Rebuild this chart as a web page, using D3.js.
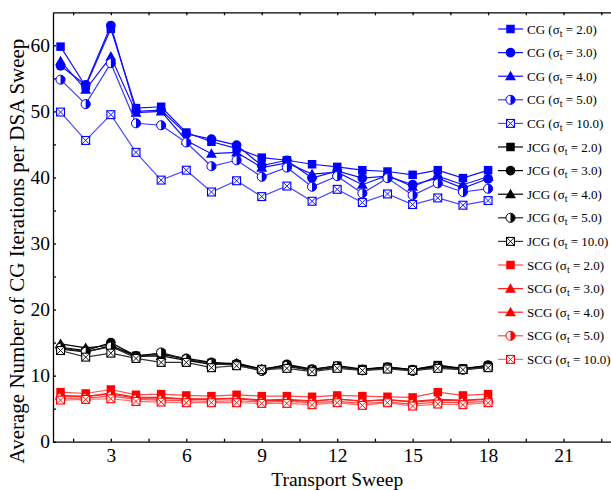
<!DOCTYPE html>
<html>
<head>
<meta charset="utf-8">
<script src="https://cdn.jsdelivr.net/npm/d3@7"></script>
<style>
  body { margin: 0; background: #fff; }
  svg text { font-family: "Liberation Serif", "DejaVu Serif", serif; }
</style>
</head>
<body>
<div id="graphic"></div>
<script>
// transport sweep index
const sweeps = d3.range(1, 19);
const sigmas = ["2.0", "3.0", "4.0", "5.0", "10.0"];

// CG
const cg2 = [59.8, 53.8, 62.5, 50.5, 50.7, 46.8, 45.4, 44.4, 43.0, 42.6, 42.0, 41.6, 41.1, 40.9, 40.4, 41.1, 39.9, 41.1];
const cg3 = [56.9, 54.0, 63.0, 50.0, 50.2, 46.6, 45.8, 44.9, 41.8, 42.6, 39.9, 41.0, 39.9, 40.2, 38.9, 39.9, 38.4, 39.8];
const cg4 = [57.6, 53.3, 58.3, 49.8, 50.0, 45.6, 43.6, 43.8, 41.5, 42.2, 40.5, 40.8, 38.9, 40.3, 38.6, 40.2, 38.9, 40.1];
const cg5 = [54.8, 51.1, 57.3, 48.2, 47.9, 45.3, 41.7, 42.6, 40.1, 41.5, 38.6, 40.2, 37.6, 39.9, 37.3, 39.1, 37.8, 38.3];
const cg10 = [49.9, 45.6, 49.5, 43.8, 39.6, 41.1, 37.8, 39.5, 37.1, 38.7, 36.4, 38.2, 36.2, 37.5, 35.9, 36.9, 35.8, 36.5];

// JCG
const jcg2 = [14.0, 13.6, 14.5, 13.0, 13.4, 12.4, 11.9, 11.7, 11.0, 11.6, 10.9, 11.5, 11.0, 11.3, 10.9, 11.6, 11.1, 11.5];
const jcg3 = [14.3, 13.8, 15.0, 13.0, 13.2, 12.6, 12.0, 11.8, 10.8, 11.7, 11.0, 11.4, 10.9, 11.3, 10.9, 11.5, 11.0, 11.6];
const jcg4 = [14.8, 14.2, 14.6, 12.9, 13.0, 12.3, 11.7, 11.9, 11.0, 11.4, 10.8, 11.3, 10.9, 11.2, 10.8, 11.4, 10.9, 11.4];
const jcg5 = [14.2, 13.6, 14.4, 12.7, 13.5, 12.5, 11.8, 11.6, 10.7, 11.5, 10.8, 11.4, 10.8, 11.1, 10.7, 11.3, 10.9, 11.3];
const jcg10 = [13.8, 12.8, 13.4, 12.6, 12.0, 12.0, 11.2, 11.5, 10.9, 11.1, 10.6, 11.1, 10.8, 11.0, 10.8, 11.1, 10.9, 11.2];

// SCG
const scg2 = [7.5, 7.3, 7.9, 7.1, 7.2, 7.0, 6.9, 7.1, 6.9, 6.9, 6.8, 7.0, 6.9, 6.8, 6.7, 7.5, 7.0, 7.2];
const scg3 = [7.0, 6.8, 7.4, 6.7, 6.7, 6.5, 6.5, 6.6, 6.3, 6.4, 6.2, 6.4, 6.2, 6.3, 6.1, 6.4, 6.3, 6.5];
const scg4 = [6.9, 6.9, 7.2, 6.6, 6.6, 6.4, 6.4, 6.5, 6.2, 6.3, 6.1, 6.5, 6.1, 6.4, 6.0, 6.3, 6.2, 6.4];
const scg5 = [6.6, 6.6, 6.9, 6.4, 6.3, 6.2, 6.1, 6.2, 6.0, 6.1, 5.9, 6.1, 5.8, 6.0, 5.7, 6.0, 5.9, 6.1];
const scg10 = [6.3, 6.4, 6.5, 6.1, 6.0, 5.9, 5.9, 5.9, 5.8, 5.8, 5.6, 5.9, 5.5, 5.9, 5.4, 5.7, 5.6, 5.9];

const xTickLabels = [3, 6, 9, 12, 15, 18, 21];
const yTickLabels = [0, 10, 20, 30, 40, 50, 60];

// method, colour, line colour, marker per sigma
const methods = [
  { name: "CG", colour: "#0000ff", line: ["#1010ff", "#1010ff", "#1010ff", "#3a3aff", "#4a4aff"],
    marker: ["square", "circle", "triangle", "half", "xbox"], values: [cg2, cg3, cg4, cg5, cg10] },
  { name: "JCG", colour: "#000000", line: ["#000", "#000", "#000", "#222", "#333"],
    marker: ["square", "circle", "triangle", "half", "xbox"], values: [jcg2, jcg3, jcg4, jcg5, jcg10] },
  { name: "SCG", colour: "#ff0000", line: ["#ff4a4a", "#ff2020", "#ff2020", "#ff4a4a", "#ff6a6a"],
    marker: ["square", "triangle", "triangle", "half", "xbox"], values: [scg2, scg3, scg4, scg5, scg10] }
];

const series = [];
methods.forEach(m => {
  sigmas.forEach((s, i) => {
    series.push({ label: m.name, sigma: s, colour: m.colour, line: m.line[i], marker: m.marker[i], values: m.values[i] });
  });
});

const width = 611, height = 490;
const plot = { left: 53, top: 12.3, bottom: 441.7 };

const svg = d3.select("#graphic").append("svg")
  .attr("width", width).attr("height", height);

const x = d3.scaleLinear().domain([0.7, 24]).range([plot.left, plot.left + 23.3 * 25.15]);
const y = d3.scaleLinear().domain([0, 65]).range([plot.bottom, plot.top]);

// axes (ticks point inward)
const xTicks = d3.range(1.5, 24, 1.5);
svg.append("g")
  .attr("class", "x axis")
  .attr("transform", `translate(0,${plot.bottom})`)
  .call(d3.axisBottom(x).tickValues(xTicks).tickSize(-3).tickSizeOuter(0)
    .tickFormat(d => xTickLabels.includes(d) ? d : ""))
  .call(g => g.selectAll("text").attr("dy", "0.9em").attr("y", 3).style("font-size", "19.5px"));

svg.append("g")
  .attr("class", "x axis top")
  .attr("transform", `translate(0,${plot.top})`)
  .call(d3.axisTop(x).tickValues(xTicks).tickSize(-3).tickSizeOuter(0).tickFormat(""));

svg.append("g")
  .attr("class", "y axis")
  .attr("transform", `translate(${plot.left},0)`)
  .call(d3.axisLeft(y).tickValues(d3.range(0, 65, 5)).tickSize(-3).tickSizeOuter(0)
    .tickFormat(d => yTickLabels.includes(d) ? d : ""))
  .call(g => g.selectAll("text").attr("x", -3).style("font-size", "19.5px"));

svg.selectAll(".axis path, .axis line").attr("stroke", "#000").attr("stroke-width", 1.3);
svg.selectAll(".axis text").attr("fill", "#000");

// axis labels
svg.append("text")
  .attr("x", x(12)).attr("y", 486)
  .attr("text-anchor", "middle")
  .style("font-size", "19.5px")
  .text("Transport Sweep");

svg.append("text")
  .attr("transform", "translate(24,251) rotate(-90)")
  .attr("text-anchor", "middle")
  .style("font-size", "21px")
  .text("Average Number of CG Iterations per DSA Sweep");

// marker drawer
function drawMarker(g, type, colour, size) {
  const h = size / 2;
  if (type === "square") {
    g.append("rect").attr("x", -h).attr("y", -h).attr("width", size).attr("height", size).attr("fill", colour);
  } else if (type === "circle") {
    g.append("circle").attr("r", h + 0.6).attr("fill", colour);
  } else if (type === "triangle") {
    const t = h + 1.2;
    g.append("path").attr("d", `M0,${-t}L${t},${t * 0.75}L${-t},${t * 0.75}Z`).attr("fill", colour);
  } else if (type === "half") {
    const r = h + 0.3;
    g.append("circle").attr("r", r).attr("fill", "#fff").attr("stroke", colour).attr("stroke-width", 1);
    g.append("path").attr("d", `M0,${-r}A${r},${r} 0 0 1 0,${r}Z`).attr("fill", colour);
  } else if (type === "xbox") {
    const s = h - 0.3;
    g.append("rect").attr("x", -s).attr("y", -s).attr("width", 2 * s).attr("height", 2 * s)
      .attr("fill", "#fff").attr("stroke", colour).attr("stroke-width", 1.1);
    g.append("path").attr("d", `M${-s},${-s}L${s},${s}M${s},${-s}L${-s},${s}`)
      .attr("stroke", colour).attr("stroke-width", 0.9);
  }
}

const line = d3.line().x((d, i) => x(sweeps[i])).y(d => y(d));

const seriesG = svg.append("g").selectAll("g.series")
  .data(series)
  .join("g")
  .attr("class", "series");

seriesG.append("path")
  .attr("d", d => line(d.values))
  .attr("fill", "none")
  .attr("stroke", d => d.line)
  .attr("stroke-width", 1.2);

seriesG.each(function (d) {
  const g = d3.select(this);
  d.values.forEach((v, i) => {
    const mg = g.append("g").attr("transform", `translate(${x(sweeps[i])},${y(v)})`);
    drawMarker(mg, d.marker, d.colour, 8.5);
  });
});

// legend
const legend = svg.append("g").attr("class", "legend");
const legendItem = legend.selectAll("g")
  .data(series)
  .join("g")
  .attr("transform", (d, i) => `translate(498,${29 + i * 23.6})`);

legendItem.append("line")
  .attr("x1", 0).attr("x2", 25)
  .attr("stroke", d => d.line).attr("stroke-width", 1.2);

legendItem.each(function (d) {
  const mg = d3.select(this).append("g").attr("transform", "translate(12.5,0)");
  drawMarker(mg, d.marker, d.colour, 8.5);
});

const lt = legendItem.append("text")
  .attr("x", 29).attr("y", 4.5)
  .style("font-size", "13px");
lt.append("tspan").text(d => `${d.label} (σ`);
lt.append("tspan").attr("dy", 3).style("font-size", "10px").text("t");
lt.append("tspan").attr("dy", -3).text(d => ` = ${d.sigma})`);
</script>
</body>
</html>
